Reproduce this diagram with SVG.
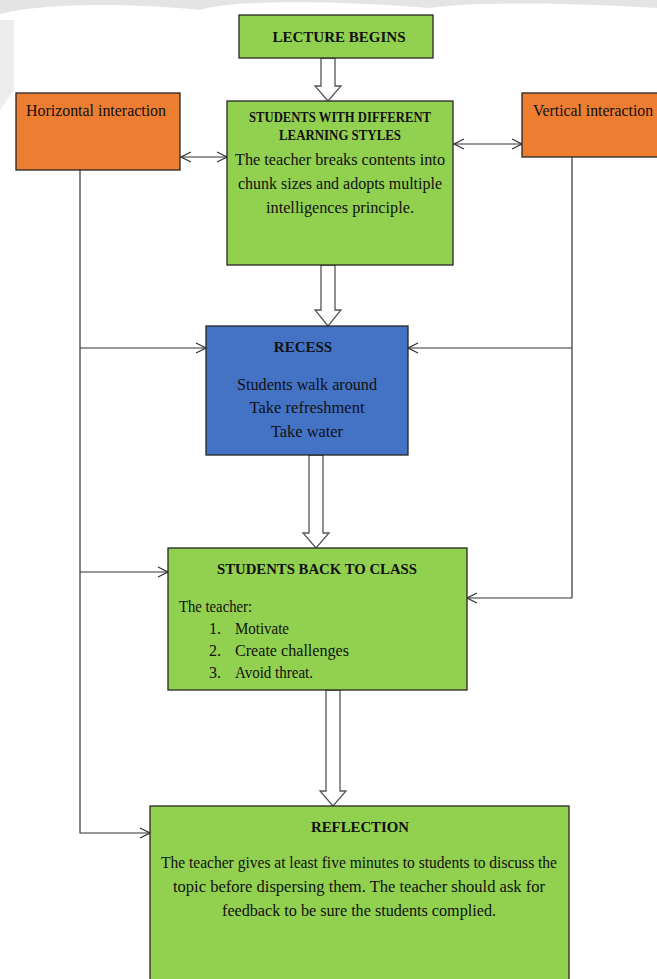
<svg xmlns="http://www.w3.org/2000/svg" width="657" height="979" viewBox="0 0 657 979">
<style>
.g{fill:#92D050;stroke:#262626;stroke-width:1.3}
.o{fill:#ED7D31;stroke:#262626;stroke-width:1.3}
.b{fill:#4472C4;stroke:#262626;stroke-width:1.3}
.t{font-family:"Liberation Serif","Times New Roman",serif;font-size:16px;fill:#111}
.h{font-family:"Liberation Serif","Times New Roman",serif;font-size:15px;font-weight:bold;fill:#111}
.c{text-anchor:middle}
.ln{fill:none;stroke:#333;stroke-width:1.2}
.ha{fill:#fff;stroke:#555;stroke-width:1.3}
</style>
<defs>
<marker id="ar" viewBox="0 0 12 12" refX="11" refY="6" markerWidth="12" markerHeight="12" markerUnits="userSpaceOnUse" orient="auto-start-reverse">
<path d="M1,1 L11,6 L1,11" fill="none" stroke="#333" stroke-width="1.2"/>
</marker>
</defs>
<rect width="657" height="979" fill="#fff"/>
<path d="M0,0 H657 V8 C560,2 470,2 430,8 C330,0 230,0 200,10 C120,2 40,4 0,14 Z" fill="#e4e4e4"/>
<path d="M0,20 L14,20 L14,90 L0,110 Z" fill="#ececec"/>
<g id="connectors">
<polygon class="ha" points="321,58 335,58 335,86 341,86 328,101 315,86 321,86"/>
<polygon class="ha" points="321,265 335,265 335,310 341,310 328,326 315,310 321,310"/>
<polygon class="ha" points="309,455 323,455 323,533 329,533 316,548 303,533 309,533"/>
<polygon class="ha" points="326,690 340,690 340,791 346,791 333,806 320,791 326,791"/>
<line class="ln" x1="181" y1="157" x2="227" y2="157" marker-start="url(#ar)" marker-end="url(#ar)"/>
<line class="ln" x1="454" y1="144" x2="522" y2="144" marker-start="url(#ar)" marker-end="url(#ar)"/>
<polyline class="ln" points="80,170 80,833 150,833" marker-end="url(#ar)"/>
<line class="ln" x1="80" y1="348" x2="206" y2="348" marker-end="url(#ar)"/>
<line class="ln" x1="80" y1="572" x2="168" y2="572" marker-end="url(#ar)"/>
<line class="ln" x1="572" y1="157" x2="572" y2="598"/>
<line class="ln" x1="572" y1="348" x2="408" y2="348" marker-end="url(#ar)"/>
<line class="ln" x1="572" y1="598" x2="467" y2="598" marker-end="url(#ar)"/>
</g>
<g id="lecture-begins">
<rect class="g" x="239" y="15" width="194" height="43"/>
<text class="h c" x="339" y="42" font-size="16">LECTURE BEGINS</text>
</g>
<g id="horizontal-interaction">
<rect class="o" x="16" y="93" width="164" height="77"/>
<text class="t" x="26" y="116" textLength="140" lengthAdjust="spacingAndGlyphs">Horizontal interaction</text>
</g>
<g id="vertical-interaction">
<rect class="o" x="522" y="93" width="140" height="64"/>
<text class="t" x="533" y="116" textLength="120" lengthAdjust="spacingAndGlyphs">Vertical interaction</text>
</g>
<g id="students-styles">
<rect class="g" x="227" y="101" width="226" height="164"/>
<text class="h c" x="340" y="122" font-size="13" textLength="182" lengthAdjust="spacingAndGlyphs">STUDENTS WITH DIFFERENT</text>
<text class="h c" x="340" y="140" font-size="13" textLength="122" lengthAdjust="spacingAndGlyphs">LEARNING STYLES</text>
<text class="t c" x="340" y="165" textLength="210" lengthAdjust="spacingAndGlyphs">The teacher breaks contents into</text>
<text class="t c" x="340" y="189" textLength="204" lengthAdjust="spacingAndGlyphs">chunk sizes and adopts multiple</text>
<text class="t c" x="340" y="213" textLength="148" lengthAdjust="spacingAndGlyphs">intelligences principle.</text>
</g>
<g id="recess">
<rect class="b" x="206" y="326" width="202" height="129"/>
<text class="h c" x="303" y="352" font-size="15">RECESS</text>
<text class="t c" x="307" y="390" textLength="140" lengthAdjust="spacingAndGlyphs">Students walk around</text>
<text class="t c" x="307" y="413" textLength="115" lengthAdjust="spacingAndGlyphs">Take refreshment</text>
<text class="t c" x="307" y="437" textLength="72" lengthAdjust="spacingAndGlyphs">Take water</text>
</g>
<g id="back-to-class">
<rect class="g" x="168" y="548" width="299" height="142"/>
<text class="h c" x="317" y="574" font-size="15" textLength="200" lengthAdjust="spacingAndGlyphs">STUDENTS BACK TO CLASS</text>
<text class="t" x="179" y="612" textLength="73" lengthAdjust="spacingAndGlyphs">The teacher:</text>
<text class="t" x="209" y="634">1.</text>
<text class="t" x="235" y="634" textLength="54" lengthAdjust="spacingAndGlyphs">Motivate</text>
<text class="t" x="209" y="656">2.</text>
<text class="t" x="235" y="656" textLength="114" lengthAdjust="spacingAndGlyphs">Create challenges</text>
<text class="t" x="209" y="678">3.</text>
<text class="t" x="235" y="678" textLength="78" lengthAdjust="spacingAndGlyphs">Avoid threat.</text>
</g>
<g id="reflection">
<rect class="g" x="150" y="806" width="419" height="180"/>
<text class="h c" x="360" y="832" font-size="15" textLength="98" lengthAdjust="spacingAndGlyphs">REFLECTION</text>
<text class="t c" x="359" y="868" textLength="396" lengthAdjust="spacingAndGlyphs">The teacher gives at least five minutes to students to discuss the</text>
<text class="t c" x="359" y="892" textLength="372" lengthAdjust="spacingAndGlyphs">topic before dispersing them. The teacher should ask for</text>
<text class="t c" x="359" y="916" textLength="274" lengthAdjust="spacingAndGlyphs">feedback to be sure the students complied.</text>
</g>
</svg>
